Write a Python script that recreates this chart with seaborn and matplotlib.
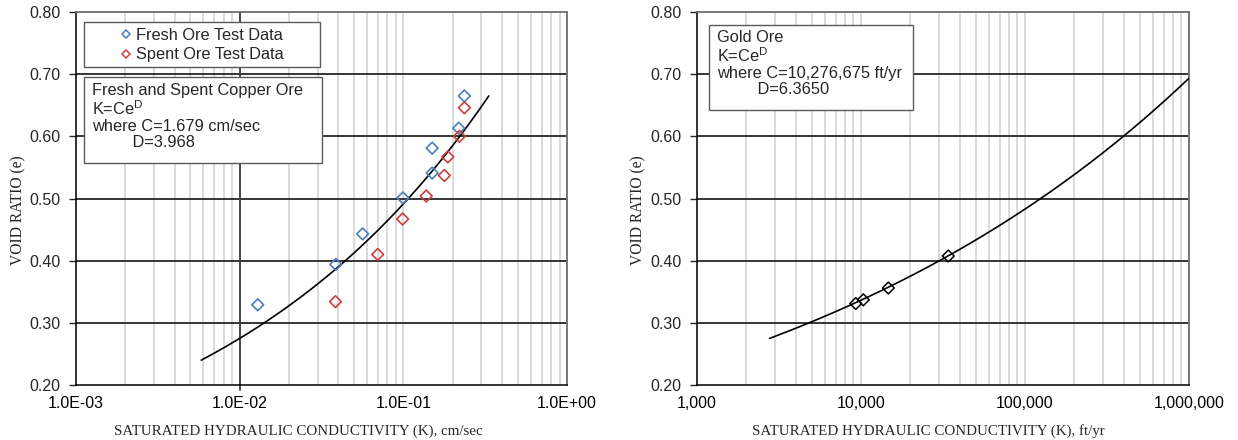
import numpy as np
import pandas as pd
import matplotlib
matplotlib.use("Agg")
import matplotlib.pyplot as plt
from matplotlib.patches import Rectangle
from matplotlib.lines import Line2D
from matplotlib.ticker import FixedLocator, FuncFormatter, LogLocator, NullFormatter
import seaborn as sns

# ---------------- data ----------------
fresh_k = [0.0129, 0.0387, 0.0564, 0.0994, 0.150, 0.150, 0.218, 0.236]
fresh_e = [0.329, 0.394, 0.443, 0.501, 0.541, 0.581, 0.613, 0.665]
spent_k = [0.0385, 0.0697, 0.0990, 0.138, 0.178, 0.187, 0.220, 0.236]
spent_e = [0.334, 0.410, 0.467, 0.504, 0.537, 0.567, 0.600, 0.646]
copper_C = 1.679
copper_D = 3.968
copper_e_range = (0.240, 0.665)

gold_k = [9290, 10330, 14680, 34060]
gold_e = [0.331, 0.337, 0.356, 0.4075]
gold_C = 10276675
gold_D = 6.3650
gold_e_range = (0.275, 0.6934)

y_ticks = [0.20, 0.30, 0.40, 0.50, 0.60, 0.70, 0.80]
left_xticks = [1e-3, 1e-2, 1e-1, 1e0]
right_xticks = [1e3, 1e4, 1e5, 1e6]

legend_labels = ["Fresh Ore Test Data", "Spent Ore Test Data"]
left_box_text = "Fresh and Spent Copper Ore\nK=Ce$^\\mathregular{D}$\nwhere C=1.679 cm/sec\n         D=3.968"
right_box_text = "Gold Ore\nK=Ce$^\\mathregular{D}$\nwhere C=10,276,675 ft/yr\n         D=6.3650"
xlabel_left = "SATURATED HYDRAULIC CONDUCTIVITY (K), cm/sec"
xlabel_right = "SATURATED HYDRAULIC CONDUCTIVITY (K), ft/yr"
ylabel = "VOID RATIO (e)"

# ---------------- style ----------------
sns.set_style("white")
plt.rcParams["font.family"] = ["Liberation Sans", "DejaVu Sans"]
plt.rcParams["mathtext.fontset"] = "custom"
plt.rcParams["mathtext.rm"] = "Liberation Sans"

BLUE = "#4a7fbd"
RED = "#c9403c"
W, H = 1238, 440
fig = plt.figure(figsize=(W / 100, H / 100), dpi=100)

def fig_rect(x0, y0, x1, y1):
    return [x0 / W, (H - y1) / H, (x1 - x0) / W, (y1 - y0) / H]

ax1 = fig.add_axes(fig_rect(76, 12, 567, 385))
ax2 = fig.add_axes(fig_rect(697, 12, 1189, 385))

def style_axis(ax, xlim, xticks, fmt, xlabel, xlab_x, ylab_x):
    ax.set_xscale("log")
    ax.set_xlim(*xlim)
    ax.set_ylim(0.2, 0.8)
    ax.xaxis.set_major_locator(FixedLocator(xticks))
    ax.xaxis.set_minor_locator(LogLocator(base=10, subs=np.arange(2, 10)))
    ax.xaxis.set_minor_formatter(NullFormatter())
    ax.xaxis.set_major_formatter(FuncFormatter(fmt))
    ax.set_yticks(y_ticks)
    ax.yaxis.set_major_formatter(FuncFormatter(lambda v, p: f"{v:.2f}"))
    ax.tick_params(axis="x", which="both", length=0, pad=8, labelsize=11.5, colors="#000000")
    ax.tick_params(axis="y", which="major", length=5, width=1, direction="out", pad=6,
                   labelsize=11.5, left=True)
    ax.grid(False)
    ax.xaxis.grid(True, which="both", color="#d4d4d4", lw=1.2, zorder=0)
    for v in y_ticks[1:-1]:
        ax.axhline(v, color="#000000", lw=1.1, zorder=1)
    for s in ["left", "bottom"]:
        ax.spines[s].set_color("#000000")
        ax.spines[s].set_linewidth(1.1)
    for s in ["top", "right"]:
        ax.spines[s].set_color("#6e6e6e")
        ax.spines[s].set_linewidth(1.3)
    ax.set_xlabel(xlabel, fontfamily="Liberation Serif", fontsize=10.8, va="center")
    ax.xaxis.set_label_coords(xlab_x, (385 - 431) / 373)
    ax.set_ylabel(ylabel, fontfamily="Liberation Serif", fontsize=11.2, va="center")
    ax.yaxis.set_label_coords(ylab_x, 0.47)

# ---------------- left chart ----------------
e_fit_l = np.linspace(*copper_e_range, 200)
fit_l = pd.DataFrame({"K": copper_C * e_fit_l ** copper_D, "e": e_fit_l})
sns.lineplot(data=fit_l, x="K", y="e", ax=ax1, color="black", lw=1.2,
             sort=False, estimator=None, zorder=3)
sns.scatterplot(x=fresh_k, y=fresh_e, ax=ax1, marker="D", s=36,
                facecolor="none", edgecolor=BLUE, linewidth=1.2, zorder=4)
sns.scatterplot(x=spent_k, y=spent_e, ax=ax1, marker="D", s=36,
                facecolor="none", edgecolor=RED, linewidth=1.2, zorder=4)
style_axis(ax1, (1e-3, 1e0), left_xticks, lambda v, p: f"{v:.1E}", xlabel_left,
           (298 - 76) / 491, (18 - 76) / 491)
ax1.axvline(0.01, ymin=-5 / 373, ymax=1, color="#3c3c3c", lw=1.3, zorder=1, clip_on=False)

# legend box + equation box
tf = fig.transFigure
def fx(px): return px / W
def fy(py): return (H - py) / H
fig.patches.append(Rectangle((fx(84), fy(67)), fx(320) - fx(84), fy(22) - fy(67),
                             transform=tf, facecolor="white", edgecolor="#5a5a5a",
                             lw=1.0, zorder=5))
handles = [Line2D([], [], marker="D", ls="none", markersize=4.5, markerfacecolor="none",
                  markeredgecolor=BLUE, markeredgewidth=1.1),
           Line2D([], [], marker="D", ls="none", markersize=4.5, markerfacecolor="none",
                  markeredgecolor=RED, markeredgewidth=1.1)]
leg = fig.legend(handles, legend_labels, loc="center", bbox_to_anchor=(fx(203), fy(45)),
                 bbox_transform=tf, frameon=False, fontsize=11.8, handlelength=0.5,
                 handletextpad=0.35, labelspacing=0.3, borderpad=0)
leg.set_zorder(7)

fig.patches.append(Rectangle((fx(84), fy(163)), fx(322) - fx(84), fy(77) - fy(163),
                             transform=tf, facecolor="white", edgecolor="#5a5a5a",
                             lw=1.0, zorder=5))
fig.text(fx(92), fy(83), left_box_text, transform=tf, fontsize=11.8, va="top", ha="left",
         linespacing=1.08, zorder=6)

# ---------------- right chart ----------------
e_fit_r = np.linspace(*gold_e_range, 200)
fit_r = pd.DataFrame({"K": gold_C * e_fit_r ** gold_D, "e": e_fit_r})
sns.lineplot(data=fit_r, x="K", y="e", ax=ax2, color="black", lw=1.2,
             sort=False, estimator=None, zorder=3)
sns.scatterplot(x=gold_k, y=gold_e, ax=ax2, marker="D", s=36,
                facecolor="none", edgecolor="black", linewidth=1.1, zorder=4)
style_axis(ax2, (1e3, 1e6), right_xticks, lambda v, p: f"{v:,.0f}", xlabel_right,
           (928 - 697) / 492, (638 - 697) / 492)

fig.patches.append(Rectangle((fx(709), fy(110)), fx(913) - fx(709), fy(25) - fy(110),
                             transform=tf, facecolor="white", edgecolor="#5a5a5a",
                             lw=1.0, zorder=5))
fig.text(fx(717), fy(30), right_box_text, transform=tf, fontsize=11.8, va="top", ha="left",
         linespacing=1.08, zorder=6)

fig.savefig("out.png", dpi=100)
